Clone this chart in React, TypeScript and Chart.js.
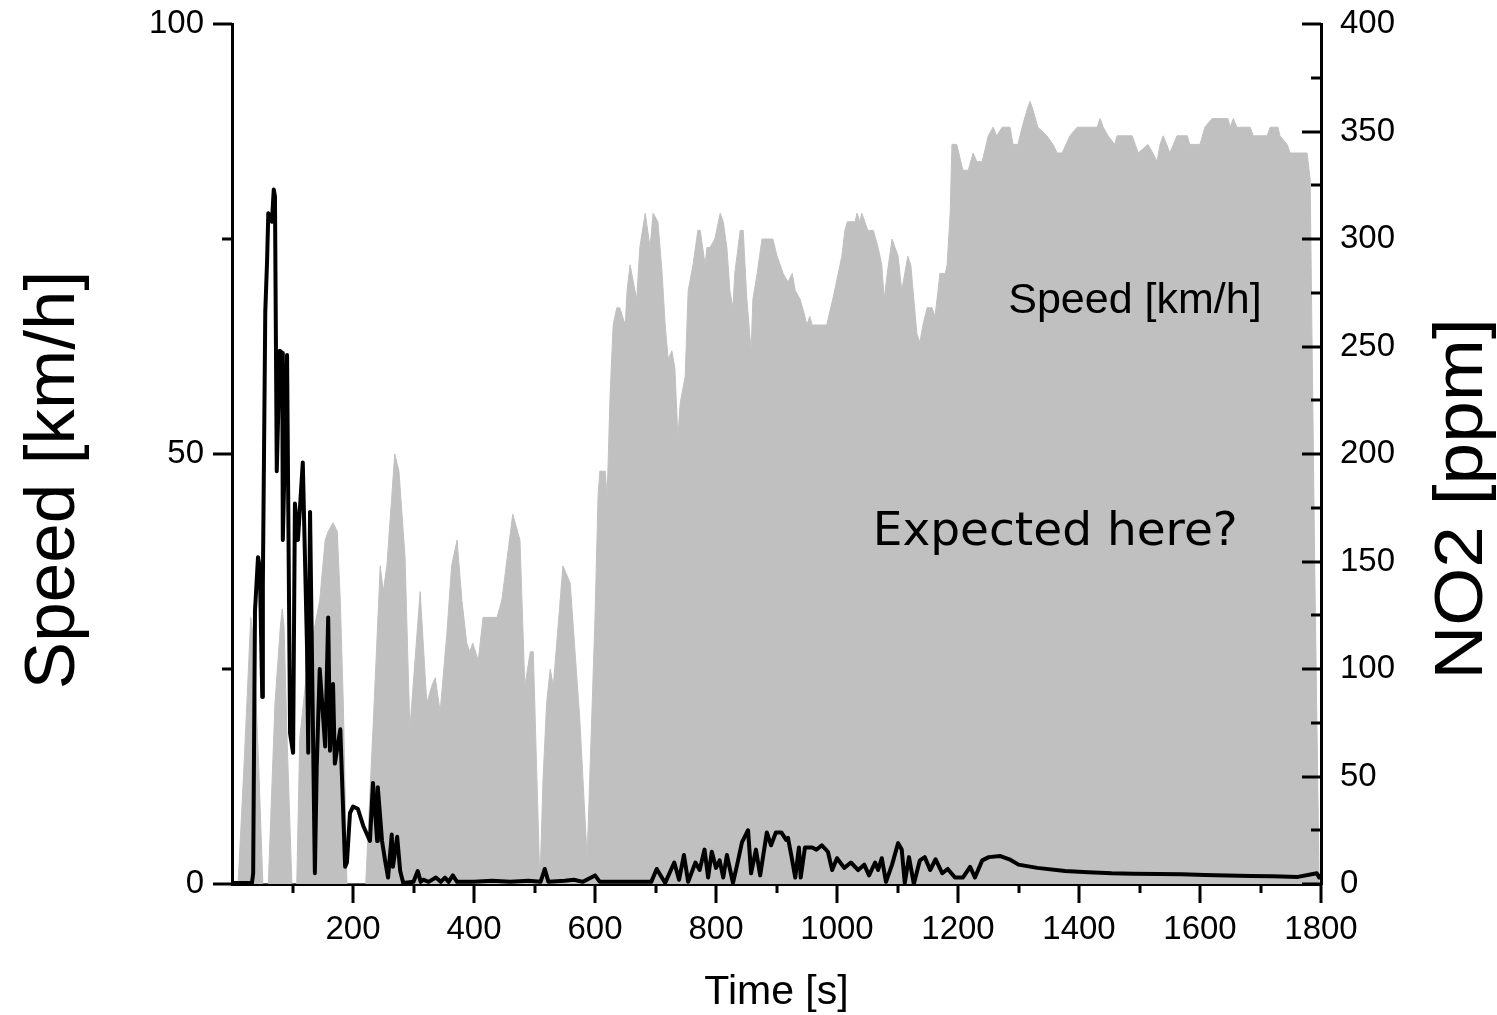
import React, { useEffect, useRef } from 'react';
import { Chart, registerables } from 'chart.js';

Chart.register(...registerables);

// ---- Data: vehicle speed (left axis) ----
const speedTime = [
  0, 10, 20, 31, 36, 44, 51, 58, 60, 71, 80, 83, 86, 91, 99, 104, 107, 112, 124, 134, 145, 154, 159, 167, 174, 179, 184, 190,
  221, 233, 240, 245, 250, 256, 264, 269, 276, 286, 294, 311, 322, 330, 336, 344, 355, 363, 372, 380, 388, 393, 398, 407, 415,
  438, 446, 455, 464, 476, 484, 493, 498, 509, 514, 520, 526, 531, 547, 559, 575, 587, 600, 605, 608, 617, 620, 625, 630, 636,
  641, 650, 653, 658, 666, 669, 674, 683, 691, 696, 704, 711, 716, 721, 727, 732, 737, 741, 749, 754, 762, 770, 774, 782, 785,
  790, 798, 807, 812, 818, 823, 828, 831, 840, 845, 851, 858, 861, 868, 876, 894, 901, 906, 911, 919, 926, 931, 939, 947, 950,
  955, 959, 983, 993, 1002, 1008, 1013, 1017, 1030, 1033, 1038, 1041, 1046, 1051, 1060, 1068, 1074, 1078, 1083, 1091, 1096,
  1101, 1107, 1112, 1117, 1122, 1132, 1137, 1142, 1149, 1157, 1162, 1167, 1170, 1179, 1182, 1187, 1190, 1198, 1208, 1217,
  1225, 1231, 1240, 1250, 1258, 1264, 1273, 1286, 1291, 1299, 1306, 1314, 1319, 1324, 1332, 1347, 1357, 1364, 1372, 1385,
  1397, 1430, 1435, 1440, 1448, 1459, 1463, 1488, 1493, 1498, 1514, 1522, 1529, 1534, 1539, 1545, 1550, 1562, 1579, 1583,
  1600, 1608, 1620, 1646, 1650, 1655, 1661, 1683, 1688, 1711, 1716, 1729, 1732, 1744, 1749, 1770, 1777, 1782, 1790, 1797, 1800,
];
const speedKmh = [
  0, 0, 14, 31, 28, 14, 0, 0, 0, 21, 30, 32, 30, 17, 0, 0, 0, 17, 25, 29, 33, 40, 41, 42, 41, 33, 21, 0,
  0, 18, 29, 37, 34, 37, 45, 50, 48, 38, 18, 34, 21, 23, 24, 20, 29, 37, 40, 33, 28, 27, 28, 26, 31,
  31, 33, 38, 43, 40, 23, 27, 27, 0, 12, 21, 25, 23, 37, 35, 19, 3, 31, 45, 48, 48, 45, 57, 65, 67,
  67, 65, 69, 72, 69, 68, 74, 78, 74, 78, 77, 71, 65, 61, 62, 60, 52, 56, 59, 69, 72, 76, 76, 72, 74,
  74, 75, 78, 77, 74, 69, 67, 71, 76, 76, 68, 62, 68, 71, 75, 75, 73, 72, 71, 70, 71, 69, 68, 66, 65,
  66, 65, 65, 68, 71, 73, 76, 77, 77, 78, 77, 78, 77, 76, 76, 74, 72, 68, 71, 75, 74,
  73, 69, 71, 73, 72, 64, 63, 65, 67, 67, 66, 69, 71, 71, 72, 78, 86, 86, 83, 83,
  85, 84, 84, 87, 88, 87, 88, 88, 86, 86, 88, 90, 91, 90, 88, 87, 86, 85, 85, 87,
  88, 88, 89, 88, 87, 86, 87, 87, 86, 85, 86, 85, 84, 86, 87, 86, 85, 87, 87, 86,
  86, 88, 89, 89, 88, 89, 88, 88, 87, 87, 88, 88, 87, 86, 85, 85, 85, 82, 35, 0, 0,
];

// ---- Data: NO2 concentration (right axis) ----
const no2Time = [
  0, 20, 33, 35, 38, 43, 46, 50, 51, 55, 58, 60, 63, 66, 69, 71, 74, 79, 83, 84, 91, 96, 101, 104, 109, 117, 124, 126, 129,
  137, 140, 145, 154, 159, 162, 167, 170, 179, 187, 190, 195, 200, 208, 217, 228, 233, 240, 241, 248, 253, 258, 264, 266,
  273, 278, 283, 300, 307, 312, 316, 325, 337, 345, 352, 358, 365, 372, 400, 430, 460, 490, 510, 517, 523, 550, 565, 580,
  600, 608, 650, 693, 702, 716, 731, 739, 747, 754, 766, 773, 781, 787, 793, 800, 806, 812, 818, 828, 835, 843, 853, 858,
  866, 873, 884, 891, 899, 908, 916, 919, 925, 931, 937, 940, 947, 959, 966, 975, 985, 992, 1000, 1012, 1023, 1035, 1045,
  1053, 1063, 1068, 1074, 1081, 1091, 1101, 1107, 1112, 1119, 1127, 1137, 1145, 1154, 1163, 1174, 1183, 1195, 1208, 1220,
  1228, 1240, 1251, 1270, 1285, 1300, 1331, 1377, 1415, 1454, 1490, 1531, 1570, 1608, 1645, 1684, 1720, 1762, 1793, 1797, 1800,
];
const no2Ppm = [
  0.5, 0.5, 0.5, 5, 127, 152, 147, 87, 140, 266, 290, 312, 311, 308, 323, 320, 192, 248, 247, 160, 246, 70, 61, 177, 160, 196, 110, 61, 173,
  5, 54, 100, 64, 124, 62, 93, 56, 72, 8, 10, 33, 36, 35, 27, 20, 47, 20, 45, 20, 11, 3, 23, 8,
  22, 6, 0.5, 1, 6, 1, 2, 1, 3, 1, 3, 1, 4, 1, 1, 1.5, 1, 1.5, 1, 7, 1, 1.5, 2, 1,
  4, 1, 1, 1, 7, 0.5, 10, 2, 13.5, 1, 10, 6.5, 16, 3, 15, 7.5, 11, 3, 13.5, 0.5, 9, 19.5, 25, 5,
  16, 4, 24, 18, 24, 24, 20.5, 21.5, 12.5, 3, 17, 3, 17, 17, 16, 18, 15, 6.5, 12, 7.5, 10, 6.5, 9,
  4, 10, 6.5, 12, 1, 9, 19, 16, 0.5, 12.5, 0, 11, 12.5, 6.5, 11.5, 5, 7, 3, 3, 8,
  3, 11, 12.5, 13, 11.5, 9, 7.5, 6, 5.5, 5, 4.8, 4.7, 4.5, 4.2, 4, 3.7, 3.6, 3.3, 5, 3, 4,
];

// ---- Axis ranges and tick spacing ----
const timeMax = 1800;
const timeLabelStep = 200;
const timeMinorStep = 100;
const speedMax = 100;
const speedLabelStep = 50;
const speedMinorStep = 25;
const no2Max = 400;
const no2LabelStep = 50;
const no2MinorStep = 25;

const ARIAL = '"Liberation Sans", Arial, Helvetica, sans-serif';

const tickMarksPlugin = {
  id: 'tickMarks',
  afterDatasetsDraw(chart: any) {
    const { ctx, chartArea } = chart;
    const xs = chart.scales.x;
    const ys = chart.scales.y;
    const y1 = chart.scales.y1;
    ctx.save();
    ctx.strokeStyle = '#000';
    ctx.lineWidth = 3;
    ctx.lineCap = 'butt';
    const seg = (x1: number, yA: number, x2: number, yB: number) => {
      ctx.beginPath();
      ctx.moveTo(x1, yA);
      ctx.lineTo(x2, yB);
      ctx.stroke();
    };
    for (let v = timeMinorStep; v <= timeMax; v += timeMinorStep) {
      const px = Math.round(xs.getPixelForValue(v));
      const len = v % timeLabelStep === 0 ? 19 : 9;
      seg(px, chartArea.bottom, px, chartArea.bottom + len);
    }
    for (let v = 0; v <= speedMax; v += speedMinorStep) {
      const py = Math.round(ys.getPixelForValue(v));
      const len = v % speedLabelStep === 0 ? 19 : 10;
      seg(chartArea.left, py, chartArea.left - len, py);
    }
    for (let v = 0; v <= no2Max; v += no2MinorStep) {
      const py = Math.round(y1.getPixelForValue(v));
      const len = v % no2LabelStep === 0 ? 19 : 10;
      seg(chartArea.right, py, chartArea.right - len, py);
    }
    ctx.restore();
  },
};

const textPlugin = {
  id: 'chartTexts',
  afterDraw(chart: any) {
    const { ctx, chartArea } = chart;
    const xs = chart.scales.x;
    const ys = chart.scales.y;
    ctx.save();
    ctx.fillStyle = '#000';
    ctx.textBaseline = 'alphabetic';

    // left axis title
    ctx.save();
    ctx.font = `71px ${ARIAL}`;
    ctx.translate(chartArea.left - 158, (chartArea.top + chartArea.bottom) / 2 + 26);
    ctx.rotate(-Math.PI / 2);
    ctx.textAlign = 'center';
    ctx.fillText('Speed [km/h]', 0, 0);
    ctx.restore();

    // right axis title
    ctx.save();
    ctx.font = `68px ${ARIAL}`;
    ctx.translate(chartArea.right + 161, (chartArea.top + chartArea.bottom) / 2 + 45);
    ctx.rotate(-Math.PI / 2);
    ctx.scale(1.1, 1);
    ctx.textAlign = 'center';
    ctx.fillText('NO2 [ppm]', 0, 0);
    ctx.restore();

    // bottom axis title
    ctx.font = `41px ${ARIAL}`;
    ctx.textAlign = 'center';
    ctx.fillText('Time [s]', (chartArea.left + chartArea.right) / 2, chartArea.bottom + 120);

    // annotations inside the plot
    ctx.textAlign = 'left';
    ctx.font = `43px ${ARIAL}`;
    ctx.fillText('Speed [km/h]', xs.getPixelForValue(1283), ys.getPixelForValue(66.4));
    ctx.font = `47px "DejaVu Sans", sans-serif`;
    ctx.fillText('Expected here?', xs.getPixelForValue(1059), ys.getPixelForValue(39.4));
    ctx.restore();
  },
};

const noPad = (s: any) => {
  s.paddingTop = 0;
  s.paddingBottom = 0;
  s.paddingLeft = 0;
  s.paddingRight = 0;
};

export default function App() {
  const canvasRef = useRef<HTMLCanvasElement | null>(null);

  useEffect(() => {
    const canvas = canvasRef.current;
    if (!canvas) return;
    const speedData = speedTime.map((t, i) => ({ x: t, y: speedKmh[i] }));
    const no2Data = no2Time.map((t, i) => ({ x: t, y: no2Ppm[i] }));

    const tickFont = { family: ARIAL, size: 33 };

    const chart = new Chart(canvas, {
      type: 'line',
      data: {
        datasets: [
          {
            label: 'NO2 [ppm]',
            data: no2Data,
            yAxisID: 'y1',
            borderColor: '#000000',
            borderWidth: 4,
            pointRadius: 0,
            tension: 0,
            fill: false,
            order: 1,
            borderJoinStyle: 'round',
            borderCapStyle: 'round',
          },
          {
            label: 'Speed [km/h]',
            data: speedData,
            yAxisID: 'y',
            borderColor: '#c0c0c0',
            backgroundColor: '#c0c0c0',
            borderWidth: 1,
            pointRadius: 0,
            tension: 0,
            fill: 'origin',
            order: 2,
          },
        ],
      },
      options: {
        responsive: false,
        animation: false,
        devicePixelRatio: 1,
        layout: { padding: { top: 24, left: 0, right: 0, bottom: 0 } },
        plugins: {
          legend: { display: false },
          tooltip: { enabled: false },
          title: { display: false },
        },
        scales: {
          x: {
            type: 'linear',
            position: 'bottom',
            min: 0,
            max: timeMax,
            z: 1,
            grid: { display: false, drawTicks: false, tickLength: 0 },
            border: { display: true, color: '#000', width: 3 },
            ticks: {
              stepSize: timeLabelStep,
              padding: 26,
              color: '#000',
              font: tickFont,
              maxRotation: 0,
              autoSkip: false,
              callback: (v: any) => (Number(v) === 0 ? '' : String(v)),
            },
            afterFit: (s: any) => {
              s.height = 131;
              noPad(s);
            },
          },
          y: {
            type: 'linear',
            position: 'left',
            min: 0,
            max: speedMax,
            z: 1,
            grid: { display: false, drawTicks: false, tickLength: 0 },
            border: { display: true, color: '#000', width: 3 },
            ticks: {
              stepSize: speedLabelStep,
              padding: 28,
              color: '#000',
              font: tickFont,
              callback: (v: any) => String(v),
            },
            afterFit: (s: any) => {
              s.width = 232;
              noPad(s);
            },
          },
          y1: {
            type: 'linear',
            position: 'right',
            min: 0,
            max: no2Max,
            z: 1,
            grid: { display: false, drawTicks: false, tickLength: 0, drawOnChartArea: false },
            border: { display: true, color: '#000', width: 3 },
            ticks: {
              stepSize: no2LabelStep,
              padding: 19,
              color: '#000',
              font: tickFont,
              callback: (v: any) => String(v),
            },
            afterFit: (s: any) => {
              s.width = 176;
              noPad(s);
            },
          },
        },
      },
      plugins: [tickMarksPlugin, textPlugin],
    } as any);

    return () => {
      chart.destroy();
    };
  }, []);

  return (
    <div style={{ position: 'fixed', left: 0, top: 0, width: 1497, height: 1015, background: '#fff' }}>
      <canvas ref={canvasRef} width={1497} height={1015} style={{ display: 'block' }} />
    </div>
  );
}
